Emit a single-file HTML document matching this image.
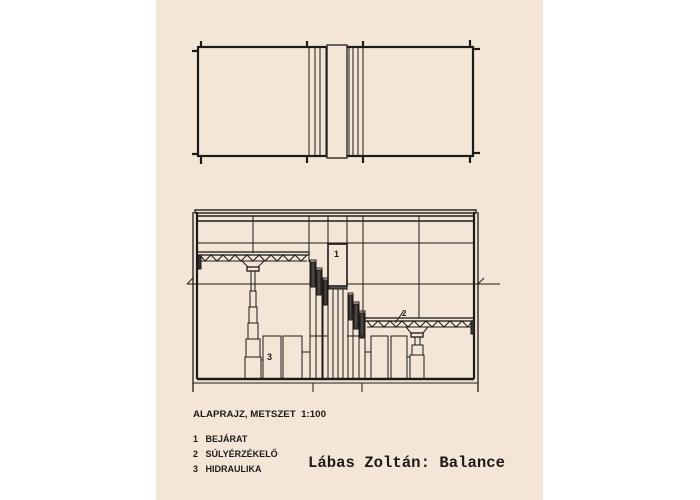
<!DOCTYPE html>
<html><head><meta charset="utf-8"><style>
html,body{margin:0;padding:0;background:#fff;width:700px;height:500px;overflow:hidden}
svg{display:block}
</style></head><body>
<svg width="700" height="500" viewBox="0 0 700 500" xmlns="http://www.w3.org/2000/svg">
<rect x="0" y="0" width="700" height="500" fill="#fff"/>
<rect x="156" y="0" width="387" height="500" fill="#f3e6d6"/>
<g stroke="#1e1a18" fill="none" stroke-width="1">
<!-- PLAN -->
<rect x="198" y="47" width="275" height="109" stroke-width="2.2"/>
<rect x="327" y="45" width="20" height="113" fill="#f3e6d6" stroke-width="1.3"/>
<line x1="309" y1="47" x2="309" y2="156"/><line x1="315" y1="47" x2="315" y2="156"/>
<line x1="320" y1="47" x2="320" y2="156"/><line x1="326" y1="47" x2="326" y2="156"/>
<line x1="349" y1="47" x2="349" y2="156"/><line x1="353" y1="47" x2="353" y2="156"/>
<line x1="358" y1="47" x2="358" y2="156"/><line x1="363" y1="47" x2="363" y2="156"/>
<g stroke-width="2.2">
<line x1="201" y1="41" x2="201" y2="47"/><line x1="307" y1="41" x2="307" y2="47"/>
<line x1="363" y1="41" x2="363" y2="47"/><line x1="470" y1="40" x2="470" y2="47"/>
<line x1="201" y1="156" x2="201" y2="164"/><line x1="307" y1="156" x2="307" y2="163"/>
<line x1="363" y1="156" x2="363" y2="163"/><line x1="470" y1="156" x2="470" y2="163"/>
<line x1="192" y1="51" x2="198" y2="51"/><line x1="192" y1="154" x2="198" y2="154"/>
<line x1="473" y1="49" x2="480" y2="49"/><line x1="473" y1="153" x2="480" y2="153"/>
</g>
<!-- SECTION frame -->
<line x1="193" y1="212" x2="193" y2="392" stroke-width="1.3"/>
<line x1="478" y1="212" x2="478" y2="392" stroke-width="1.3"/>
<line x1="197" y1="212" x2="197" y2="379" stroke-width="2.2"/>
<line x1="474" y1="212" x2="474" y2="379" stroke-width="2.2"/>
<rect x="195" y="210" width="281" height="3" stroke-width="1.4"/>
<line x1="197" y1="216" x2="474" y2="216" stroke-width="1.6"/>
<line x1="197" y1="221" x2="474" y2="221" stroke-width="1.6"/>
<line x1="197" y1="379" x2="474" y2="379" stroke-width="2.4"/>
<line x1="193" y1="383" x2="478" y2="383"/>
<line x1="313" y1="383" x2="313" y2="392"/><line x1="362" y1="383" x2="362" y2="392"/>
<!-- grid -->
<line x1="253" y1="216" x2="253" y2="253"/>
<line x1="309" y1="216" x2="309" y2="262"/>
<line x1="328" y1="216" x2="328" y2="244"/>
<line x1="347" y1="216" x2="347" y2="290"/>
<line x1="363" y1="216" x2="363" y2="318"/>
<line x1="419" y1="216" x2="419" y2="318"/>
<line x1="197" y1="243" x2="474" y2="243"/>
<line x1="187" y1="284" x2="310" y2="284"/>
<line x1="347" y1="284" x2="500" y2="284"/>
<line x1="187" y1="284" x2="193" y2="278"/>
<line x1="478" y1="284" x2="484" y2="278"/>
<!-- box 1 -->
<rect x="328" y="244" width="19" height="42" stroke-width="1.6"/>
<rect x="329" y="286" width="18" height="3" fill="#555"/>
<line x1="333" y1="289" x2="333" y2="379"/><line x1="338" y1="289" x2="338" y2="379"/><line x1="343" y1="289" x2="343" y2="379"/>
<!-- left deck -->
<rect x="197" y="252" width="112" height="3" stroke-width="1.3"/>
<polyline points="200,255 205,261 211,255 217,261 223,255 229,261 235,255 241,261 247,255 253,261 259,255 265,261 271,255 277,261 283,255 289,261 295,255 301,261 307,255"/>
<line x1="200" y1="261" x2="307" y2="261"/>
<polygon points="242,261 264,261 258,267 248,267"/>
<rect x="247" y="267" width="12" height="4" stroke-width="1.3"/>
<rect x="198" y="255" width="3" height="14" fill="#333"/>
<!-- left column -->
<rect x="251" y="271" width="4" height="20"/>
<rect x="250" y="291" width="6" height="16"/>
<rect x="249" y="307" width="8" height="16"/>
<rect x="248" y="323" width="10" height="16"/>
<rect x="246" y="339" width="14" height="18"/>
<rect x="245" y="357" width="16" height="22"/>
<rect x="261" y="360" width="2" height="19"/>
<!-- boxes 3 -->
<rect x="263" y="336" width="18" height="43"/>
<rect x="283" y="336" width="19" height="43"/>
<rect x="302" y="352" width="8" height="27"/>
<!-- left steps -->
<g>
<rect x="310" y="260" width="6" height="119"/><rect x="311" y="262" width="4" height="25" fill="#4a4442"/>
<rect x="316" y="268" width="6" height="111"/><rect x="317" y="270" width="4" height="25" fill="#4a4442"/>
<rect x="323" y="278" width="5" height="101"/><rect x="324" y="280" width="3" height="25" fill="#4a4442"/>
<line x1="310" y1="336" x2="328" y2="336"/>
<rect x="348" y="293" width="5" height="86"/><rect x="349" y="295" width="3" height="25" fill="#4a4442"/>
<rect x="353" y="302" width="6" height="77"/><rect x="354" y="304" width="4" height="25" fill="#4a4442"/>
<rect x="359" y="311" width="6" height="68"/><rect x="360" y="313" width="4" height="25" fill="#4a4442"/>
<line x1="347" y1="336" x2="365" y2="336"/>
</g>
<!-- right deck -->
<rect x="365" y="318" width="109" height="3" stroke-width="1.3"/>
<polyline points="367,321 372,327 378,321 384,327 390,321 396,327 402,321 408,327 414,321 420,327 426,321 432,327 438,321 444,327 450,321 456,327 462,321 468,327 472,321"/>
<line x1="367" y1="327" x2="472" y2="327"/>
<polygon points="406,327 428,327 423,333 411,333"/>
<rect x="411" y="333" width="12" height="4" stroke-width="1.3"/>
<rect x="471" y="321" width="3" height="13" fill="#333"/>
<rect x="415" y="337" width="5" height="8"/>
<rect x="412" y="345" width="11" height="10"/>
<rect x="410" y="355" width="14" height="24"/>
<rect x="407" y="357" width="3" height="22"/>
<line x1="395" y1="323" x2="403" y2="312"/>
<rect x="371" y="336" width="17" height="43"/>
<rect x="391" y="336" width="16" height="43"/>
<rect x="365" y="352" width="6" height="27"/>
</g>
<g font-family="Liberation Sans, sans-serif" font-size="9" fill="#1e1a18" font-weight="bold">
<text x="334" y="257">1</text>
<text x="402" y="316" font-size="8">2</text>
<text x="267" y="360">3</text>
<text x="193" y="417" textLength="133" lengthAdjust="spacingAndGlyphs">ALAPRAJZ, METSZET&#160;&#160;1:100</text>
<text x="193" y="442">1&#160;&#160;&#160;BEJÁRAT</text>
<text x="193" y="457">2&#160;&#160;&#160;SÚLYÉRZÉKELŐ</text>
<text x="193" y="472">3&#160;&#160;&#160;HIDRAULIKA</text>
</g>
<text x="308" y="467" font-family="Liberation Mono, monospace" font-size="16" font-weight="bold" fill="#1e1a18" textLength="197" lengthAdjust="spacingAndGlyphs">Lábas Zoltán: Balance</text>
</svg>
</body></html>
